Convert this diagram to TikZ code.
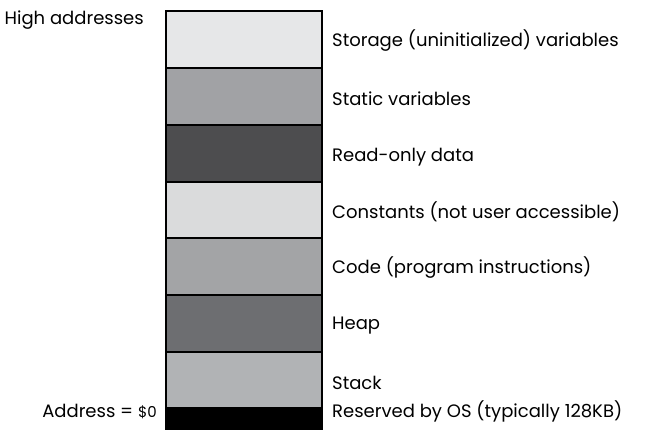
\documentclass[tikz,border=0pt]{standalone}
\usepackage{fontspec}
\setmainfont{Poppins}
\definecolor{cA}{HTML}{E6E7E8}
\definecolor{cB}{HTML}{A1A2A5}
\definecolor{cC}{HTML}{4D4D4F}
\definecolor{cD}{HTML}{DADBDC}
\definecolor{cE}{HTML}{A3A4A6}
\definecolor{cF}{HTML}{6D6E71}
\definecolor{cG}{HTML}{B1B3B5}
\tikzset{
  seg/.style={draw=black, line width=1.6pt},
  lbl/.style={anchor=west, inner sep=0pt, font=\fontsize{18}{22}\selectfont},
  lft/.style={anchor=east, inner sep=0pt, font=\fontsize{18}{22}\selectfont}
}
\begin{document}
\begin{tikzpicture}[x=1pt,y=-1pt]
\useasboundingbox (0,0) rectangle (648,433);
\path[seg, fill=cA] (166,11) rectangle (322,68);
\path[seg, fill=cB] (166,68) rectangle (322,125);
\path[seg, fill=cC] (166,125) rectangle (322,182);
\path[seg, fill=cD] (166,182) rectangle (322,238);
\path[seg, fill=cE] (166,238) rectangle (322,295);
\path[seg, fill=cF] (166,295) rectangle (322,352);
\path[seg, fill=cG] (166,352) rectangle (322,408);
\path[seg, fill=black] (166,408) rectangle (322,429);
\node[lbl] (t1) at (332,41) {Storage (uninitialized) variables};
\node[lbl] (t2) at (332,99) {Static variables};
\node[lbl] (t3) at (332,157) {Read-only data};
\node[lbl] (t4) at (332,212) {Constants (not user accessible)};
\node[lbl] (t5) at (332,268) {Code (program instructions)};
\node[lbl] (t6) at (332,326) {Heap};
\node[lbl] (t7) at (332,383) {Stack};
\node[lbl] (t8) at (332,411) {Reserved by OS (typically 128KB)};
\node[lft] (h) at (144,20) {High addresses};
\node[lft] (a) at (157,411) {Address = {\fontsize{15}{18}\selectfont\$0}};
\end{tikzpicture}
\end{document}
